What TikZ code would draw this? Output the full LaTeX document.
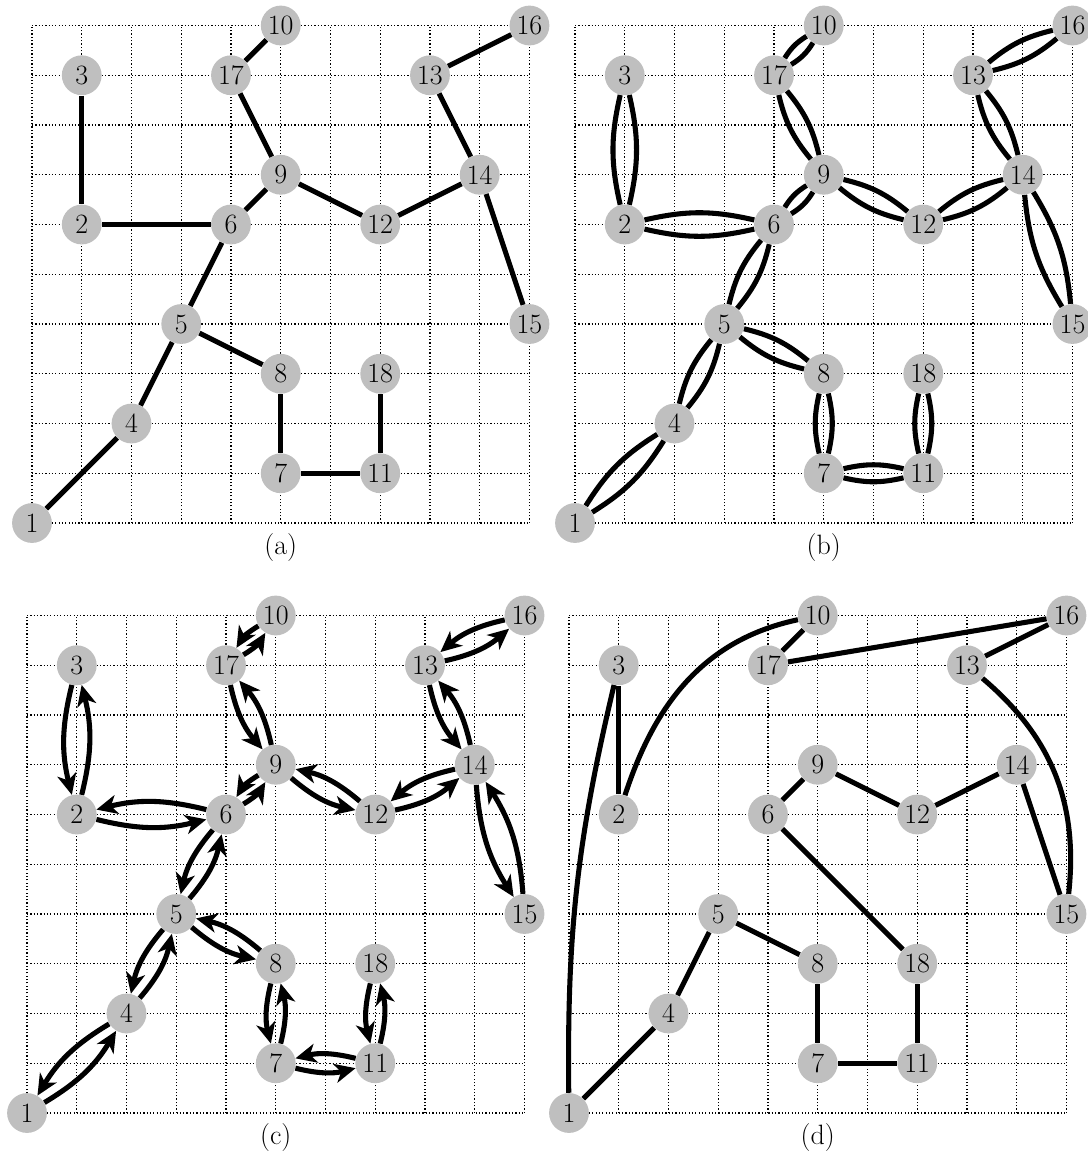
\documentclass[tikz,border=0pt]{standalone}
\usepackage{fontspec}
\usetikzlibrary{arrows.meta}

\begin{document}
\begin{tikzpicture}[
    vertex/.style={circle, fill=black!25, inner sep=0pt, minimum size=0.8cm,
        font=\fontsize{16}{18}\selectfont},
    link/.style={line width=2.9pt},
    twin/.style={line width=2.9pt, bend left=13},
    arc/.style={line width=2.9pt, bend right=14,
        -{Stealth[length=12pt,width=11pt,inset=3.5pt]}},
    raster/.style={line width=0.7pt, dash pattern=on 0.7pt off 1.2pt},
    caption/.style={font=\fontsize{16}{18}\selectfont}
]

\useasboundingbox (-0.643,-12.663) rectangle (21.226,10.513);

% Grids, vertices and captions of the four panels
\foreach \p/\dx/\dy in {a/0/0, b/10.915/0, c/-0.1/-11.859, d/10.794/-11.859} {
    \begin{scope}[shift={(\dx,\dy)}]
        \draw[raster] (0,0) grid (10,10);
        \foreach \n/\x/\y in {1/0/0, 2/1/6, 3/1/9, 4/2/2, 5/3/4, 6/4/6,
            7/5/1, 8/5/3, 9/5/7, 10/5/10, 11/7/1, 12/7/6, 13/8/9,
            14/9/7, 15/10/4, 16/10/10, 17/4/9, 18/7/3} {
            \node[vertex] (\p\n) at (\x,\y) {\n};
        }
        \node[caption] (cap\p) at (5,-0.5) {(\p)};
    \end{scope}
}

% Tree edges: (a) single, (b) doubled, (c) both directions
\foreach \u/\v in {3/2, 2/6, 6/9, 9/17, 17/10, 9/12, 12/14, 14/13, 13/16,
    14/15, 6/5, 5/8, 5/4, 4/1, 8/7, 7/11, 11/18} {
    \draw[link] (a\u) -- (a\v);
    \draw[twin] (b\u) to (b\v);
    \draw[twin] (b\v) to (b\u);
    \draw[arc] (c\u) to (c\v);
    \draw[arc] (c\v) to (c\u);
}

% Edges of (d)
\foreach \u/\v in {1/4, 4/5, 5/8, 8/7, 7/11, 11/18, 18/6, 6/9, 9/12,
    12/14, 14/15, 13/16, 16/17, 17/10, 2/3} {
    \draw[link] (d\u) -- (d\v);
}
\draw[link] (d13) to[bend left=28] (d15);
\draw[link] (d10) to[out=192, in=72] (d2);
\draw[link] (d3) to[bend right=7] (d1);

\end{tikzpicture}
\end{document}
